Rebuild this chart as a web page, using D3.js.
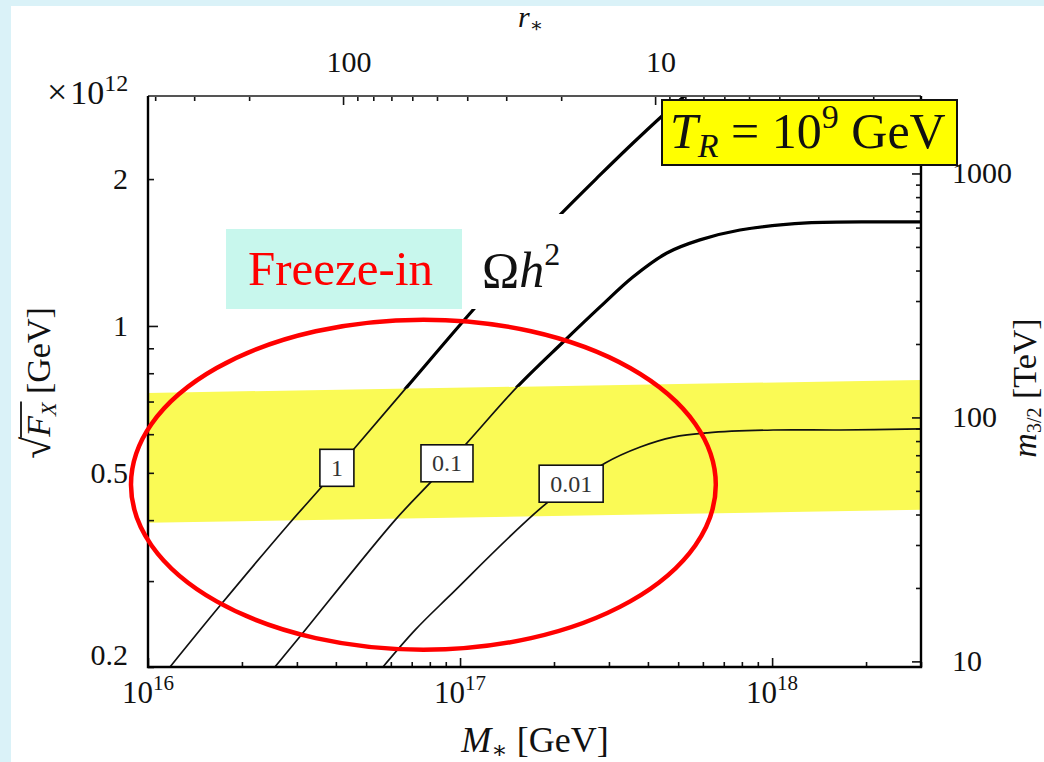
<!DOCTYPE html>
<html>
<head>
<meta charset="utf-8">
<script src="https://cdn.jsdelivr.net/npm/d3@7"></script>
<style>
html, body { margin: 0; padding: 0; background: #daf2f8; }
svg { display: block; }
text { font-family: "Liberation Serif", "DejaVu Serif", serif; }
</style>
</head>
<body>
<svg id="chart" width="1044" height="762"></svg>
<script>
// contour Omega h^2 = 1   (M_* in GeV, sqrt(F_X) in 10^12 GeV)
var omega1M = [1.176e16, 1.70e16, 2.81e16, 3.58e16, 4.54e16, 6.76e16, 1.10e17, 1.523e17, 2.046e17, 2.81e17, 3.584e17, 4.44e17, 5.46e17];
var omega1F = [0.200, 0.267, 0.391, 0.466, 0.557, 0.750, 1.078, 1.359, 1.665, 2.039, 2.371, 2.694, 3.03];

// contour Omega h^2 = 0.1
var omega01M = [2.55e16, 3.07e16, 6.19e16, 8.07e16, 1.038e17, 1.524e17, 2.14e17, 2.81e17, 3.58e17, 4.60e17, 5.87e17, 7.89e17, 1.294e18, 2.27e18, 3.0e18];
var omega01F = [0.200, 0.231, 0.400, 0.479, 0.570, 0.750, 0.927, 1.094, 1.260, 1.411, 1.501, 1.573, 1.626, 1.634, 1.634];

// contour Omega h^2 = 0.01
var omega001M = [5.66e16, 7.17e16, 9.16e16, 1.90e17, 2.92e17, 3.78e17, 4.82e17, 6.20e17, 1.008e18, 1.65e18, 3.0e18];
var omega001F = [0.200, 0.238, 0.278, 0.434, 0.524, 0.565, 0.592, 0.604, 0.612, 0.612, 0.615];

// contour labels
var contourNames = ['1', '0.1', '0.01'];
var contourLabelM = [4.03e16, 9.08e16, 2.27e17];
var contourLabelF = [0.512, 0.523, 0.475];

// yellow band
var bandM = [1e16, 3e18];
var bandLow = [0.395, 0.420];
var bandHigh = [0.729, 0.775];

// red ellipse (bounding box in data units)
var ellipseM = [8.82e15, 6.6e17];
var ellipseF = [0.217, 1.03];

// tick labels
var massLabels = [1e16, 1e17, 1e18];
var fLabels = [0.2, 0.5, 1, 2];
var rLabels = [100, 10];
var m32Labels = [10, 100, 1000];

const W = 1044, H = 762;
const L = 148, R = 921, T = 96, B = 667;
const MP = 2.435e18;              // reduced Planck mass
const SQ3MP = Math.sqrt(3) * MP;

var svg = d3.select('#chart');

// white sheet
svg.append('rect').attr('x', 11).attr('y', 6).attr('width', W - 11).attr('height', H - 6).attr('fill', '#fff');

var x = d3.scaleLog().domain([1e16, 3e18]).range([L, R]);
var y = d3.scaleLog().domain([0.2, 2.96]).range([B, T]);
// m_3/2 = F / (sqrt3 MP), in TeV
var m32 = function (s) { return s * s * 1e24 / SQ3MP / 1e3; };
var yR = d3.scaleLog().domain([m32(0.2), m32(2.96)]).range([B, T]);
// r_* = sqrt3 MP / M_*
var xT = d3.scaleLog().domain([SQ3MP / 1e16, SQ3MP / 3e18]).range([L, R]);

var defs = svg.append('defs');
defs.append('clipPath').attr('id', 'plot').append('rect')
    .attr('x', L).attr('y', T).attr('width', R - L).attr('height', B - T);
// region above the band's upper edge
defs.append('clipPath').attr('id', 'above').append('path')
    .attr('d', 'M' + L + ',' + T + 'L' + R + ',' + T +
        'L' + x(bandM[1]) + ',' + y(bandHigh[1]) + 'L' + x(bandM[0]) + ',' + y(bandHigh[0]) + 'Z');

var plot = svg.append('g').attr('clip-path', 'url(#plot)');

// band
plot.append('path')
    .attr('d', 'M' + x(bandM[0]) + ',' + y(bandHigh[0]) + 'L' + x(bandM[1]) + ',' + y(bandHigh[1]) +
        'L' + x(bandM[1]) + ',' + y(bandLow[1]) + 'L' + x(bandM[0]) + ',' + y(bandLow[0]) + 'Z')
    .attr('fill', '#fafa55');

var line = d3.line()
    .x(function (d) { return x(d[0]); })
    .y(function (d) { return y(d[1]); })
    .curve(d3.curveCatmullRom.alpha(0.5));

var curves = [d3.zip(omega1M, omega1F), d3.zip(omega01M, omega01F), d3.zip(omega001M, omega001F)];

plot.selectAll('path.thin').data(curves).enter().append('path')
    .attr('class', 'thin')
    .attr('d', line)
    .attr('fill', 'none').attr('stroke', '#111').attr('stroke-width', 1.7);

plot.append('g').attr('clip-path', 'url(#above)')
    .selectAll('path').data(curves).enter().append('path')
    .attr('d', line)
    .attr('fill', 'none').attr('stroke', '#000').attr('stroke-width', 3.2);

// contour labels
var labs = svg.selectAll('g.clab').data(contourNames).enter().append('g').attr('class', 'clab');
labs.each(function (d, i) {
    var g = d3.select(this);
    var cx = x(contourLabelM[i]), cy = y(contourLabelF[i]);
    var r = g.append('rect');
    var t = g.append('text').attr('x', cx).attr('y', cy + 8).attr('text-anchor', 'middle')
        .attr('font-size', 24).attr('fill', '#333').text(d);
    var bw = t.node().getBBox().width + 22;
    r.attr('x', cx - bw / 2).attr('y', cy - 18.5).attr('width', bw).attr('height', 37)
        .attr('fill', '#fff').attr('stroke', '#111').attr('stroke-width', 1.6);
});

// ticks
function ticks(axisFn, scale, values, size, tr) {
    svg.append('g').attr('transform', tr)
        .call(axisFn(scale).tickValues(values).tickSize(size).tickFormat(''))
        .call(function (g) {
            g.select('.domain').remove();
            g.selectAll('line').attr('stroke', '#111').attr('stroke-width', 1.6);
        });
}
function isDecade(v) { var l = Math.log10(v); return Math.abs(l - Math.round(l)) < 1e-6; }

ticks(d3.axisBottom, x, x.ticks().filter(function (v) { return !isDecade(v); }), -5, 'translate(0,' + B + ')');
ticks(d3.axisBottom, x, x.ticks().filter(isDecade), -9, 'translate(0,' + B + ')');
ticks(d3.axisLeft, y, y.ticks().filter(function (v) { return !isDecade(v); }), -6, 'translate(' + L + ',0)');
ticks(d3.axisLeft, y, y.ticks().filter(isDecade), -10, 'translate(' + L + ',0)');
ticks(d3.axisTop, xT, xT.ticks().filter(function (v) { return !isDecade(v); }), -5, 'translate(0,' + T + ')');
ticks(d3.axisTop, xT, xT.ticks().filter(isDecade), -9, 'translate(0,' + T + ')');
ticks(d3.axisRight, yR, yR.ticks().filter(function (v) { return !isDecade(v); }), -5, 'translate(' + R + ',0)');
ticks(d3.axisRight, yR, yR.ticks().filter(isDecade), -9, 'translate(' + R + ',0)');

// frame
svg.append('path').attr('d', 'M' + L + ',' + T + 'H' + R).attr('stroke', '#555').attr('stroke-width', 2);
svg.append('path').attr('d', 'M' + L + ',' + T + 'V' + B + 'H' + R + 'V' + T)
    .attr('fill', 'none').attr('stroke', '#000').attr('stroke-width', 2.4);

// tick labels
svg.selectAll('text.xl').data(massLabels).enter().append('text')
    .attr('class', 'xl').attr('x', function (d) { return x(d); }).attr('y', 703)
    .attr('text-anchor', 'middle').attr('fill', '#111')
    .each(function (d) {
        var t = d3.select(this);
        t.append('tspan').attr('font-size', 31).text('10');
        t.append('tspan').attr('font-size', 21).attr('dy', -13).text(Math.round(Math.log10(d)));
    });

svg.selectAll('text.yl').data(fLabels).enter().append('text')
    .attr('class', 'yl').attr('x', 128).attr('y', function (d) { return Math.min(y(d) + 10, 665); })
    .attr('text-anchor', 'end').attr('font-size', 30).attr('fill', '#111').text(function (d) { return d; });

svg.selectAll('text.tl').data(rLabels).enter().append('text')
    .attr('class', 'tl').attr('x', function (d) { return xT(d) + 6; }).attr('y', 72)
    .attr('text-anchor', 'middle').attr('font-size', 30).attr('fill', '#111').text(function (d) { return d; });

svg.selectAll('text.rl').data(m32Labels).enter().append('text')
    .attr('class', 'rl').attr('x', 952).attr('y', function (d) { return yR(d) + 10; })
    .attr('font-size', 30).attr('fill', '#111').text(function (d) { return d; });

var ex = svg.append('text').attr('x', 47).attr('y', 104).attr('fill', '#111');
ex.append('tspan').attr('font-size', 36).text('×');
ex.append('tspan').attr('font-size', 34).attr('dx', 3).text('10');
ex.append('tspan').attr('font-size', 24).attr('dy', -13).text('12');

// axis titles
var xt = svg.append('text').attr('x', 535).attr('y', 752).attr('text-anchor', 'middle').attr('fill', '#111');
xt.append('tspan').attr('font-size', 36).attr('font-style', 'italic').text('M');
xt.append('tspan').attr('font-size', 24).attr('dy', 6).text('∗');
xt.append('tspan').attr('font-size', 36).attr('dy', -6).text(' [GeV]');

// left title, sqrt(F_X) with a drawn overline
var ytg = svg.append('g').attr('transform', 'translate(50,383) rotate(-90)');
var yt = ytg.append('text').attr('text-anchor', 'middle').attr('fill', '#111');
yt.append('tspan').attr('font-size', 40).text('√');
yt.append('tspan').attr('font-size', 34).attr('font-style', 'italic').text('F');
yt.append('tspan').attr('font-size', 22).attr('font-style', 'italic').attr('dy', 6).text('X');
yt.append('tspan').attr('font-size', 34).attr('dy', -6).text(' [GeV]');
var ytn = yt.node();
var rootEnd = ytn.getEndPositionOfChar(0).x;
var fxEnd = ytn.getEndPositionOfChar(2).x;
ytg.append('line').attr('x1', rootEnd - 1).attr('x2', fxEnd + 1).attr('y1', -29).attr('y2', -29)
    .attr('stroke', '#111').attr('stroke-width', 1.8);

var rt = svg.append('text').attr('transform', 'translate(1036,388) rotate(-90)').attr('text-anchor', 'middle').attr('fill', '#111');
rt.append('tspan').attr('font-size', 34).attr('font-style', 'italic').text('m');
rt.append('tspan').attr('font-size', 20).attr('dy', 5).text('3/2');
rt.append('tspan').attr('font-size', 34).attr('dy', -5).text(' [TeV]');

var tt = svg.append('text').attr('x', 518).attr('y', 27).attr('fill', '#111');
tt.append('tspan').attr('font-size', 30).attr('font-style', 'italic').text('r');
tt.append('tspan').attr('font-size', 20).attr('dy', 5).text('∗');

// T_R box
svg.append('rect').attr('x', 662).attr('y', 100).attr('width', 295).attr('height', 65)
    .attr('fill', '#ffff00').attr('stroke', '#111').attr('stroke-width', 2);
var tr = svg.append('text').attr('x', 670).attr('y', 148).attr('fill', '#111');
tr.append('tspan').attr('font-size', 50).attr('font-style', 'italic').text('T');
tr.append('tspan').attr('font-size', 34).attr('font-style', 'italic').attr('dy', 9).text('R');
tr.append('tspan').attr('font-size', 50).attr('dy', -9).text(' = 10');
tr.append('tspan').attr('font-size', 34).attr('dy', -20).text('9');
tr.append('tspan').attr('font-size', 50).attr('dy', 20).text(' GeV');

// Freeze-in box and Omega h^2
svg.append('rect').attr('x', 226).attr('y', 229).attr('width', 236).attr('height', 80).attr('fill', '#c8f7ed');
svg.append('text').attr('x', 248).attr('y', 285).attr('font-size', 49).attr('fill', '#ff0000').text('Freeze-in');
svg.append('rect').attr('x', 462).attr('y', 214).attr('width', 128).attr('height', 95).attr('fill', '#fff');
var om = svg.append('text').attr('x', 482).attr('y', 287).attr('fill', '#111');
om.append('tspan').attr('font-size', 50).text('Ω');
om.append('tspan').attr('font-size', 50).attr('font-style', 'italic').text('h');
om.append('tspan').attr('font-size', 32).attr('dy', -22).text('2');

// red ellipse
var ecx = (x(ellipseM[0]) + x(ellipseM[1])) / 2, ecy = (y(ellipseF[0]) + y(ellipseF[1])) / 2;
svg.append('ellipse').attr('cx', ecx).attr('cy', ecy)
    .attr('rx', (x(ellipseM[1]) - x(ellipseM[0])) / 2).attr('ry', (y(ellipseF[0]) - y(ellipseF[1])) / 2)
    .attr('fill', 'none').attr('stroke', '#ff0000').attr('stroke-width', 4.5);

// blue page edges
svg.append('rect').attr('x', 0).attr('y', 0).attr('width', W).attr('height', 6).attr('fill', '#daf2f8');
svg.append('rect').attr('x', 0).attr('y', 0).attr('width', 11).attr('height', H).attr('fill', '#daf2f8');
</script>
</body>
</html>
